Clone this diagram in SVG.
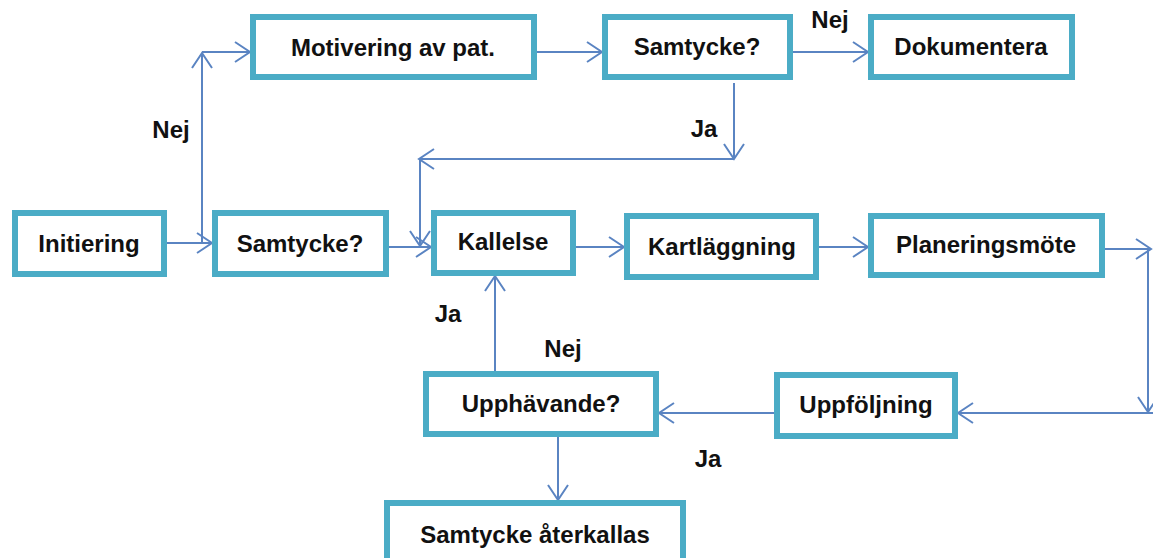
<svg xmlns="http://www.w3.org/2000/svg" width="1153" height="558" viewBox="0 0 1153 558">
<style>
.box{fill:#fff;stroke:#4BACC6;stroke-width:6}
.lbl{font-family:"Liberation Sans",Arial,sans-serif;font-weight:bold;font-size:24px;fill:#111;text-anchor:middle}
.c{fill:none;stroke:#5A84C2;stroke-width:2;marker-end:url(#ah)}
</style>
<defs>
<marker id="ah" markerUnits="userSpaceOnUse" markerWidth="22" markerHeight="26" viewBox="-18 -13 22 26" refX="0" refY="0" orient="auto">
<path d="M-15,-10 L0,0 L-15,10" fill="none" stroke="#5A84C2" stroke-width="2"/>
</marker>
</defs>
<rect width="1153" height="558" fill="#fff"/>
<g id="connectors">
<path class="c" d="M167,243 H212"/>
<path class="c" d="M202,243 V53"/>
<path class="c" d="M202,52 H250"/>
<path class="c" d="M537,52 H602"/>
<path class="c" d="M793,52 H868"/>
<path class="c" d="M734,83 V159"/>
<path class="c" d="M734,159 H419"/>
<path class="c" d="M420,159 V246"/>
<path class="c" d="M389,247 H431"/>
<path class="c" d="M576,247 H624"/>
<path class="c" d="M819,247 H868"/>
<path class="c" d="M1105,249 H1151"/>
<path class="c" d="M1148,250 V412"/>
<path class="c" d="M1153,413 H958"/>
<path class="c" d="M774,413 H659"/>
<path class="c" d="M495,373 V276"/>
<path class="c" d="M558,437 V500"/>
</g>
<g id="labels">
<text class="lbl" x="171" y="138">Nej</text>
<text class="lbl" x="830" y="28">Nej</text>
<text class="lbl" x="704" y="137">Ja</text>
<text class="lbl" x="448" y="322">Ja</text>
<text class="lbl" x="563" y="357">Nej</text>
<text class="lbl" x="708" y="467">Ja</text>
</g>
<g id="initiering"><rect class="box" x="15" y="213" width="149" height="61"/><text class="lbl" x="89" y="252">Initiering</text></g>
<g id="samtycke2"><rect class="box" x="215" y="213" width="171" height="61"/><text class="lbl" x="300" y="252">Samtycke?</text></g>
<g id="kallelse"><rect class="box" x="434" y="213" width="139" height="60"/><text class="lbl" x="503" y="250">Kallelse</text></g>
<g id="kartlaggning"><rect class="box" x="627" y="216" width="189" height="61"/><text class="lbl" x="722" y="255">Kartläggning</text></g>
<g id="planeringsmote"><rect class="box" x="871" y="216" width="231" height="59"/><text class="lbl" x="986" y="253">Planeringsmöte</text></g>
<g id="motivering"><rect class="box" x="253" y="17" width="281" height="60"/><text class="lbl" x="393" y="56">Motivering av pat.</text></g>
<g id="samtycke1"><rect class="box" x="605" y="17" width="185" height="60"/><text class="lbl" x="697" y="55">Samtycke?</text></g>
<g id="dokumentera"><rect class="box" x="871" y="17" width="201" height="60"/><text class="lbl" x="971" y="55">Dokumentera</text></g>
<g id="uppfoljning"><rect class="box" x="777" y="375" width="178" height="61"/><text class="lbl" x="866" y="413">Uppföljning</text></g>
<g id="upphavande"><rect class="box" x="426" y="374" width="230" height="60"/><text class="lbl" x="541" y="412">Upphävande?</text></g>
<g id="aterkallas"><rect class="box" x="387" y="503" width="296" height="70"/><text class="lbl" x="535" y="543">Samtycke återkallas</text></g>
</svg>
